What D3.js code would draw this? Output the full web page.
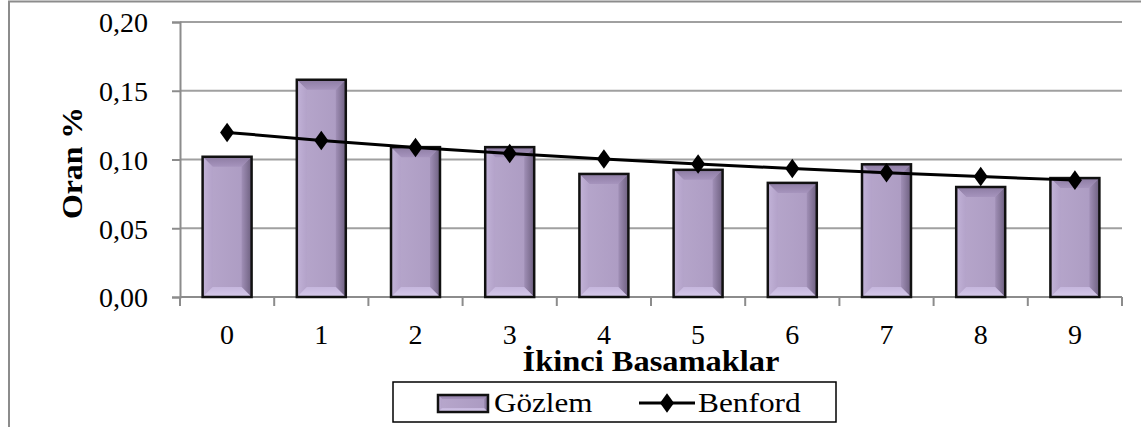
<!DOCTYPE html>
<html>
<head>
<meta charset="utf-8">
<script src="https://cdn.jsdelivr.net/npm/d3@7"></script>
<style>
  body { margin: 0; background: #fff; }
  svg text { font-family: 'Liberation Serif', serif; }
</style>
</head>
<body>
<div id="chart"></div>
<script>
const digits = ['0', '1', '2', '3', '4', '5', '6', '7', '8', '9'];
const gozlem = [0.102, 0.158, 0.109, 0.109, 0.0895, 0.0925, 0.083, 0.0965, 0.080, 0.0865];
const benford = [0.1197, 0.1139, 0.1088, 0.1043, 0.1003, 0.0967, 0.0934, 0.0904, 0.0876, 0.0850];
const yTicks = [0, 0.05, 0.10, 0.15, 0.20];

const width = 1141, height = 427;
const margin = { left: 180, right: 19, top: 22, bottom: 130 };
const FONT = 'Liberation Serif';

const svg = d3.select('#chart').append('svg')
    .attr('width', width)
    .attr('height', height)
    .attr('font-family', FONT);

// outer frame
svg.append('rect')
    .attr('x', 9).attr('y', 1.5)
    .attr('width', width + 10).attr('height', height + 10)
    .attr('fill', 'none').attr('stroke', '#8c8c8c').attr('stroke-width', 2);

const x = d3.scaleBand()
    .domain(digits)
    .range([margin.left, width - margin.right])
    .paddingInner(0.48).paddingOuter(0.24);

const y = d3.scaleLinear()
    .domain([0, 0.20])
    .range([297, margin.top]);

const fmt = d => d3.format('.2f')(d).replace('.', ',');

// gridlines
svg.append('g')
    .selectAll('line')
    .data(yTicks.slice(1))
    .enter().append('line')
    .attr('x1', margin.left).attr('x2', width - margin.right)
    .attr('y1', d => y(d)).attr('y2', d => y(d))
    .attr('stroke', '#a0a0a0').attr('stroke-width', 2);

// y axis
const yAxis = svg.append('g')
    .attr('transform', `translate(${margin.left},0)`)
    .call(d3.axisLeft(y).tickValues(yTicks).tickFormat(fmt).tickSize(8).tickPadding(24))
    .attr('font-family', FONT).attr('font-size', 28);
yAxis.select('.domain').attr('stroke', '#8c8c8c').attr('stroke-width', 2);
yAxis.selectAll('.tick line').attr('stroke', '#8c8c8c').attr('stroke-width', 2);
yAxis.selectAll('.tick text')
    .attr('fill', '#000').attr('dy', '0.35em');

// x axis
const step = x.step();
const x0edge = x(digits[0]) - x.paddingOuter() * step;
const xAxisG = svg.append('g');
xAxisG.append('line')
    .attr('x1', margin.left).attr('x2', width - margin.right)
    .attr('y1', y(0)).attr('y2', y(0))
    .attr('stroke', '#8c8c8c').attr('stroke-width', 2);
xAxisG.selectAll('line.tk')
    .data(d3.range(digits.length + 1))
    .enter().append('line')
    .attr('class', 'tk')
    .attr('x1', i => x0edge + i * step)
    .attr('x2', i => x0edge + i * step)
    .attr('y1', y(0)).attr('y2', y(0) + 9)
    .attr('stroke', '#8c8c8c').attr('stroke-width', 2);
xAxisG.selectAll('text')
    .data(digits)
    .enter().append('text')
    .attr('x', d => x(d) + x.bandwidth() / 2)
    .attr('y', 344)
    .attr('text-anchor', 'middle')
    .attr('font-size', 28)
    .text(d => d);

// bar gradients for bevel look
const defs = svg.append('defs');
function grad(id, x1, y1, x2, y2, c1, c2) {
    const g = defs.append('linearGradient').attr('id', id)
        .attr('x1', x1).attr('y1', y1).attr('x2', x2).attr('y2', y2);
    g.append('stop').attr('offset', '0%').attr('stop-color', c1);
    g.append('stop').attr('offset', '100%').attr('stop-color', c2);
}
grad('bTop', 0, 0, 0, 1, '#8d7ca3', '#a694bd');
grad('bLeft', 0, 0, 1, 0, '#c2b3d8', '#b3a2c9');
grad('bRight', 0, 0, 1, 0, '#a08fb6', '#6e6080');
grad('bBot', 0, 0, 0, 1, '#c5b6dd', '#d6caea');
grad('bFace', 0, 0, 1, 0, '#b7a7cc', '#ab9ac1');

function drawBevelBar(g, bx, by, bw, bh, bev) {
    const x0 = bx, x1 = bx + bw, y0 = by, y1 = by + bh;
    const e = Math.min(bev, bw / 2, bh / 2);
    g.append('rect').attr('x', x0).attr('y', y0).attr('width', bw).attr('height', bh).attr('fill', 'url(#bFace)');
    g.append('polygon').attr('points', [[x0, y0], [x1, y0], [x1 - e, y0 + e], [x0 + e, y0 + e]].join(' ')).attr('fill', 'url(#bTop)');
    g.append('polygon').attr('points', [[x0, y0], [x0 + e, y0 + e], [x0 + e, y1 - e], [x0, y1]].join(' ')).attr('fill', 'url(#bLeft)');
    g.append('polygon').attr('points', [[x1, y0], [x1, y1], [x1 - e, y1 - e], [x1 - e, y0 + e]].join(' ')).attr('fill', 'url(#bRight)');
    g.append('polygon').attr('points', [[x0, y1], [x0 + e, y1 - e], [x1 - e, y1 - e], [x1, y1]].join(' ')).attr('fill', 'url(#bBot)');
    g.append('rect').attr('x', x0).attr('y', y0).attr('width', bw).attr('height', bh)
        .attr('fill', 'none').attr('stroke', '#111').attr('stroke-width', 2.5);
}

const bars = svg.append('g');
gozlem.forEach((v, i) => {
    drawBevelBar(bars.append('g'), x(digits[i]), y(v), x.bandwidth(), y(0) - y(v), 10);
});

// Benford line
const line = d3.line()
    .x((d, i) => x(digits[i]) + x.bandwidth() / 2)
    .y(d => y(d));
svg.append('path')
    .datum(benford)
    .attr('d', line)
    .attr('fill', 'none').attr('stroke', '#000').attr('stroke-width', 3);

const diamond = d3.symbol().type(d3.symbolDiamond).size(110);
svg.append('g').selectAll('path')
    .data(benford)
    .enter().append('path')
    .attr('d', diamond)
    .attr('transform', (d, i) => `translate(${x(digits[i]) + x.bandwidth() / 2},${y(d)}) scale(1.25,1)`)
    .attr('fill', '#000');

// axis titles
svg.append('text')
    .attr('transform', 'translate(82,163) rotate(-90) scale(1.06,1)')
    .attr('text-anchor', 'middle')
    .attr('font-size', 30).attr('font-weight', 'bold')
    .text('Oran %');

svg.append('text')
    .attr('transform', 'translate(651,371) scale(1.12,1)')
    .attr('text-anchor', 'middle')
    .attr('font-size', 29).attr('font-weight', 'bold')
    .text('İkinci Basamaklar');

// legend
const legend = svg.append('g');
legend.append('rect')
    .attr('x', 393).attr('y', 382).attr('width', 443).attr('height', 40)
    .attr('fill', '#fff').attr('stroke', '#000').attr('stroke-width', 1.5);
drawBevelBar(legend.append('g'), 438, 395, 50, 17, 4);
legend.append('text')
    .attr('transform', 'translate(494,412) scale(1.11,1)')
    .attr('font-size', 28).text('Gözlem');
legend.append('line')
    .attr('x1', 639).attr('x2', 695).attr('y1', 403).attr('y2', 403)
    .attr('stroke', '#000').attr('stroke-width', 3);
legend.append('path')
    .attr('d', diamond)
    .attr('transform', 'translate(667,403) scale(1.25,1)')
    .attr('fill', '#000');
legend.append('text')
    .attr('transform', 'translate(698,412) scale(1.12,1)')
    .attr('font-size', 28).text('Benford');
</script>
</body>
</html>
